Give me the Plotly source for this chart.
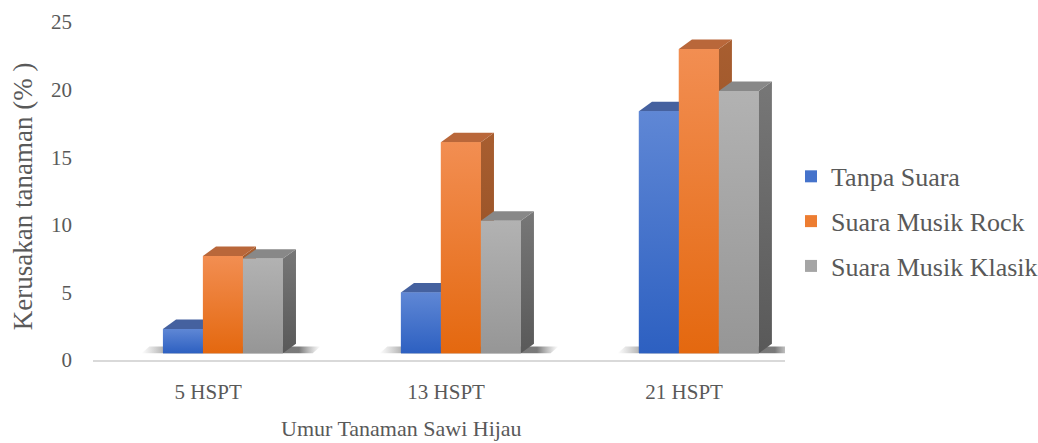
import plotly.graph_objects as go

# ---------------- data ----------------
categories = ["5 HSPT", "13 HSPT", "21 HSPT"]
series_names = ["Tanpa Suara", "Suara Musik Rock", "Suara Musik Klasik"]
tanpa_suara = [1.8, 4.5, 17.9]
musik_rock = [7.2, 15.6, 22.5]
musik_klasik = [7.0, 9.8, 19.4]
y_ticks = [0, 5, 10, 15, 20, 25]

series_values = [tanpa_suara, musik_rock, musik_klasik]

# ---------------- styles ----------------
FONT = "Liberation Serif"
TXT = "#595959"
front_top = ["#5F87D5", "#F28E52", "#B2B2B2"]
front_bot = ["#2D60C1", "#E4680F", "#969696"]
front_mid = ["#4573CB", "#ED7D31", "#A5A5A5"]
top_col = ["#45619F", "#B9673A", "#888888"]
side_top = ["#2F5398", "#A85E30", "#777777"]
side_bot = ["#223F7A", "#8C4A20", "#595959"]

W = 0.168       # bar width (category units)
G_OFF = -0.19   # left edge of group relative to category centre
DX = 0.055      # 3D depth offset (x)
DY = 0.70       # 3D depth offset (y)
LIFT = 0.5      # bars sit slightly behind the floor front edge

fig = go.Figure()

# legend / base bar traces
for j, (name, vals) in enumerate(zip(series_names, series_values)):
    xs = [i + G_OFF + j * W + W / 2 for i in range(len(categories))]
    fig.add_trace(go.Bar(
        x=xs, y=vals, base=LIFT, width=W, name=name,
        marker=dict(color=front_mid[j], line=dict(width=0)),
        legendgroup=name, hoverinfo="skip",
    ))


def poly(xs, ys, **kw):
    fig.add_trace(go.Scatter(
        x=xs + [xs[0]], y=ys + [ys[0]], mode="none", fill="toself",
        showlegend=False, hoverinfo="skip", **kw))


# soft shadows on the floor
for i in range(len(categories)):
    xl = i + G_OFF - 0.09
    xr = i + G_OFF + 3 * W + DX + 0.07
    poly([xl, xr, xr + DX * 0.6, xl + DX * 0.6], [LIFT, LIFT, LIFT + DY * 0.7, LIFT + DY * 0.7],
         fillcolor="rgba(60,60,60,0.4)",
         fillgradient=dict(type="horizontal", colorscale=[
             [0, "rgba(90,90,90,0)"], [0.2, "rgba(50,50,50,0.65)"],
             [0.88, "rgba(50,50,50,0.65)"], [1, "rgba(90,90,90,0)"]]))

# 3D faces
for i in range(len(categories)):
    for j, vals in enumerate(series_values):
        xl = i + G_OFF + j * W
        xr = xl + W
        t = LIFT + vals[i]
        poly([xr, xr + DX, xr + DX, xr], [LIFT, LIFT + DY, t + DY, t],
             fillcolor=side_top[j],
             fillgradient=dict(type="vertical", colorscale=[[0, side_bot[j]], [1, side_top[j]]]))
        poly([xl, xr, xr + DX, xl + DX], [t, t, t + DY, t + DY], fillcolor=top_col[j])
        poly([xl, xr, xr, xl], [LIFT, LIFT, t, t],
             fillcolor=front_mid[j],
             fillgradient=dict(type="vertical", colorscale=[[0, front_bot[j]], [1, front_top[j]]]))

fig.update_layout(
    template="none",
    width=1038, height=443,
    margin=dict(l=93, r=253, t=22, b=83, autoexpand=False),
    paper_bgcolor="white", plot_bgcolor="white",
    barmode="overlay",
    font=dict(family=FONT, color=TXT, size=21),
    showlegend=True,
    legend=dict(
        x=1.0087, y=0.41, xanchor="left", yanchor="middle",
        font=dict(family=FONT, size=26, color=TXT),
        tracegroupgap=8, bgcolor="rgba(0,0,0,0)",
    ),
    xaxis=dict(
        range=[-0.484, 2.424], tickvals=[0, 1, 2], ticktext=categories,
        showgrid=False, zeroline=False, showline=True, linecolor="#D9D9D9", linewidth=2,
        ticks="", tickfont=dict(family=FONT, size=21, color=TXT), ticklabelstandoff=12,
        fixedrange=True,
    ),
    yaxis=dict(
        range=[0, 25], tickvals=y_ticks,
        showgrid=False, zeroline=False, showline=False,
        ticks="", tickfont=dict(family=FONT, size=21, color=TXT), ticklabelstandoff=20,
        fixedrange=True,
    ),
    annotations=[
        dict(text="Kerusakan tanaman (% )", xref="paper", yref="paper",
             x=-0.101, y=0.485, xanchor="center", yanchor="middle", textangle=-90,
             showarrow=False, font=dict(family=FONT, size=27, color=TXT)),
        dict(text="Umur Tanaman Sawi Hijau", xref="paper", yref="paper",
             x=(401 - 93) / 692, y=(360 - 428) / 338, xanchor="center", yanchor="middle",
             showarrow=False, font=dict(family=FONT, size=22, color=TXT)),
    ],
)

fig.write_html("out.html")
